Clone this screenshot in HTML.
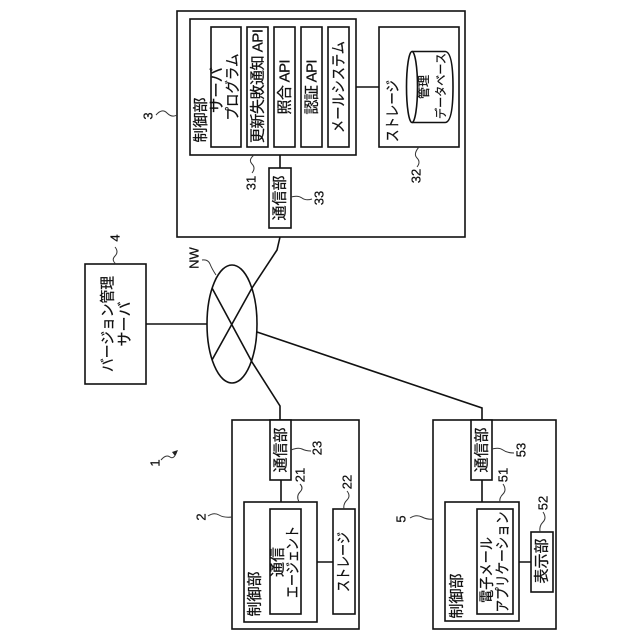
<!DOCTYPE html>
<html><head><meta charset="utf-8"><style>
html,body{margin:0;padding:0;background:#fff}
svg{display:block}
rect,ellipse{fill:#fff;stroke:#111;stroke-width:1.6}
line,.c{stroke:#111;stroke-width:1.6;fill:none}
.s{stroke:#333;stroke-width:1;fill:none}
text{font-family:"Liberation Sans","Noto Sans CJK JP",sans-serif;fill:#111;stroke:#111;stroke-width:.25;font-size:15px;text-anchor:middle;dominant-baseline:central}
text.n{font-size:13px}
</style></head><body>
<svg width="640" height="640" viewBox="0 0 640 640" xmlns="http://www.w3.org/2000/svg">
<!-- network lines -->
<path class="c" d="M146 324H207"/>
<path class="c" d="M212 360L252 288L277 250L280 237"/>
<path class="c" d="M212 288L252 362L280 406V420"/>
<path class="c" d="M257 332L482 408V420"/>
<ellipse cx="232" cy="324" rx="25" ry="59" style="fill:none"/>

<!-- version server -->
<rect x="85" y="264" width="61" height="120"/>
<text transform="translate(108,324) rotate(-90)" textLength="96" lengthAdjust="spacingAndGlyphs">バージョン管理</text>
<text transform="translate(125,324) rotate(-90)" textLength="45" lengthAdjust="spacingAndGlyphs">サーバ</text>

<!-- server 3 -->
<rect x="177" y="11" width="288" height="226"/>
<rect x="190" y="19" width="166" height="136"/>
<text transform="translate(201,120) rotate(-90)">制御部</text>
<rect x="211" y="27" width="30" height="120"/>
<text transform="translate(217,90) rotate(-90)" textLength="46" lengthAdjust="spacingAndGlyphs">サーバ</text>
<text transform="translate(233,87) rotate(-90)" textLength="67" lengthAdjust="spacingAndGlyphs">プログラム</text>
<rect x="247" y="27" width="21" height="120"/>
<text transform="translate(258,86) rotate(-90)" textLength="114">更新失敗通知 API</text>
<rect x="274" y="27" width="21" height="120"/>
<text transform="translate(285,87) rotate(-90)" textLength="55">照合 API</text>
<rect x="301" y="27" width="21" height="120"/>
<text transform="translate(312,87) rotate(-90)" textLength="55">認証 API</text>
<rect x="328" y="27" width="21" height="120"/>
<text transform="translate(339,87) rotate(-90)" textLength="92" lengthAdjust="spacingAndGlyphs">メールシステム</text>
<path class="c" d="M356 87H379M280 155V168"/>
<rect x="379" y="27" width="80" height="120"/>
<text transform="translate(393,111) rotate(-90)" textLength="62" lengthAdjust="spacingAndGlyphs">ストレージ</text>
<path class="c" d="M412 51.5H445Q453 51.5 453 87Q453 122.5 445 122.5H412"/>
<ellipse cx="412" cy="87" rx="5.5" ry="35.5" style="fill:none"/>
<text transform="translate(424,87) rotate(-90)" style="font-size:12px">管理</text>
<text transform="translate(441,86) rotate(-90)" style="font-size:12px" textLength="66" lengthAdjust="spacingAndGlyphs">データベース</text>
<rect x="269" y="168" width="22" height="60"/>
<text transform="translate(280,198) rotate(-90)">通信部</text>

<!-- terminal 2 -->
<rect x="232" y="420" width="127" height="209"/>
<rect x="270" y="420" width="21" height="60"/>
<text transform="translate(281,450) rotate(-90)">通信部</text>
<path class="c" d="M281 480V502M317 562H333"/>
<rect x="244" y="502" width="73" height="120"/>
<text transform="translate(255,594) rotate(-90)">制御部</text>
<rect x="270" y="509" width="31" height="105"/>
<text transform="translate(278,562) rotate(-90)">通信</text>
<text transform="translate(293,562) rotate(-90)" textLength="72" lengthAdjust="spacingAndGlyphs">エージェント</text>
<rect x="333" y="509" width="22" height="105"/>
<text transform="translate(344,562) rotate(-90)" textLength="60" lengthAdjust="spacingAndGlyphs">ストレージ</text>

<!-- terminal 5 -->
<rect x="433" y="420" width="123" height="209"/>
<rect x="471" y="420" width="21" height="60"/>
<text transform="translate(482,450) rotate(-90)">通信部</text>
<path class="c" d="M482 480V502M519 562H531"/>
<rect x="445" y="502" width="74" height="119"/>
<text transform="translate(457,596) rotate(-90)">制御部</text>
<rect x="477" y="509" width="36" height="105"/>
<text transform="translate(487,570) rotate(-90)" textLength="66" lengthAdjust="spacingAndGlyphs">電子メール</text>
<text transform="translate(503,562) rotate(-90)" textLength="101" lengthAdjust="spacingAndGlyphs">アプリケーション</text>
<rect x="531" y="532" width="22" height="60"/>
<text transform="translate(542,561) rotate(-90)">表示部</text>

<!-- reference numbers -->
<text class="n" transform="translate(148,116) rotate(-90)">3</text>
<text class="n" transform="translate(251,183) rotate(-90)">31</text>
<text class="n" transform="translate(319,198) rotate(-90)">33</text>
<text class="n" transform="translate(416,176) rotate(-90)">32</text>
<text class="n" transform="translate(115,238) rotate(-90)">4</text>
<text class="n" transform="translate(194,258) rotate(-90)">NW</text>
<text class="n" transform="translate(155,463) rotate(-90)">1</text>
<text class="n" transform="translate(201,517) rotate(-90)">2</text>
<text class="n" transform="translate(300,475) rotate(-90)">21</text>
<text class="n" transform="translate(347,482) rotate(-90)">22</text>
<text class="n" transform="translate(317,448) rotate(-90)">23</text>
<text class="n" transform="translate(401,519) rotate(-90)">5</text>
<text class="n" transform="translate(503,475) rotate(-90)">51</text>
<text class="n" transform="translate(543,503) rotate(-90)">52</text>
<text class="n" transform="translate(521,450) rotate(-90)">53</text>
<!-- leader squiggles -->
<path class="s" d="M156 115Q162 108 167 113T177 115"/>
<path class="s" d="M252 173Q256 168 252 164T254 155"/>
<path class="s" d="M291 197Q298 195 302 198T312 199"/>
<path class="s" d="M417 167Q421 162 417 158T419 147"/>
<path class="s" d="M115 247Q119 252 115 256T116 264"/>
<path class="s" d="M202 260Q208 259 210 264T216 275"/>
<path class="s" d="M161 460Q166 454 170 457T177 451"/>
<path d="M178 450L172 452L175 456Z" fill="#222"/>
<path class="s" d="M208 516Q214 512 219 515T232 517"/>
<path class="s" d="M300 484Q304 488 300 492T299 502"/>
<path class="s" d="M347 491Q351 496 347 500T344 509"/>
<path class="s" d="M291 450Q298 447 302 449T311 451"/>
<path class="s" d="M410 518Q416 514 422 517T433 519"/>
<path class="s" d="M503 484Q507 490 503 494T500 502"/>
<path class="s" d="M543 512Q547 518 543 522T540 532"/>
<path class="s" d="M492 449Q499 447 503 450T514 453"/>
</svg>
</body></html>
